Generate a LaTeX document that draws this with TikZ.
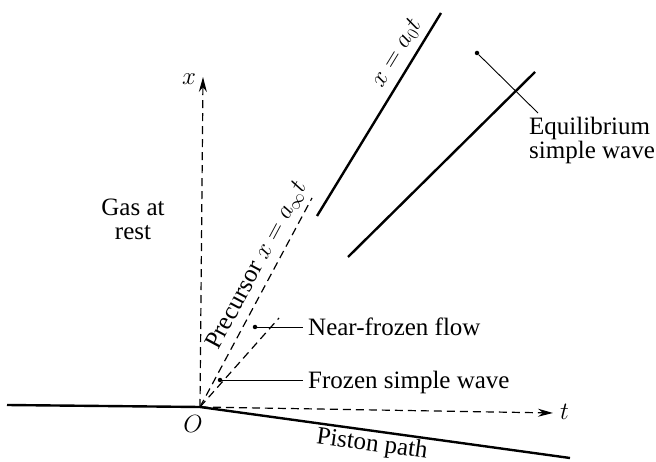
\documentclass[tikz,border=0pt]{standalone}
\usepackage{fontspec}
\setmainfont{Liberation Serif}
\usetikzlibrary{arrows.meta}
\tikzset{
  axisline/.style={line width=1.2pt, dash pattern=on 8pt off 5pt},
  waveline/.style={line width=2.4pt},
  leader/.style={line width=0.9pt},
  dotnode/.style={circle, fill=black, inner sep=0pt, minimum size=4.5pt},
  lbl/.style={font=\fontsize{25}{24}\selectfont, inner sep=0pt},
  axtip/.style={-{Stealth[length=15pt,width=8pt]}}
}
\begin{document}
\begin{tikzpicture}[x=1pt,y=-1pt]
\useasboundingbox (0,0) rectangle (656,462);
% key points
\coordinate (O) at (200,407);
\coordinate (L) at (7,405);
\coordinate (P) at (570,458);
\coordinate (xtip) at (203,77);
\coordinate (ttip) at (553,413);
\coordinate (pre) at (312,198);
\coordinate (nf) at (279,318);
\coordinate (a0s) at (317,216);
\coordinate (a0e) at (441,13);
\coordinate (eqs) at (348,257);
\coordinate (eqe) at (535,72);
% axes
\draw[axisline, axtip] (O) -- (xtip);
\draw[axisline, axtip] (O) -- (ttip);
\node[lbl] (xl) at (189,79) {$x$};
\node[lbl, anchor=west] (tl) at (560,412) {$t$};
% piston and wall
\draw[waveline] (L) -- (O) -- node[lbl, sloped, below=1.5pt, pos=0.47] (pp) {Piston path} (P);
\node[lbl] (Ol) at (193,424) {$O$};
% dashed characteristic lines
\draw[axisline] (O) -- node[lbl, sloped, above=6pt, pos=0.64] (prel) {Precursor $x=a_\infty t$} (pre);
\draw[axisline] (O) -- (nf);
% solid wave lines
\draw[waveline] (a0s) -- node[lbl, sloped, above=6pt, pos=0.76] (a0l) {$x=a_0t$} (a0e);
\draw[waveline] (eqs) -- (eqe);
% labels
\node[lbl, align=center, anchor=north] (gas) at (133,199) {Gas at\\rest};
\node[dotnode] (nfdot) at (255,327) {};
\node[lbl, anchor=base west] (nftext) at (308,335) {Near-frozen flow};
\draw[leader, shorten >=5pt] (nfdot) -- (nfdot -| nftext.west);
\node[dotnode] (fzdot) at (220,380) {};
\node[lbl, anchor=base west] (fztext) at (308,388) {Frozen simple wave};
\draw[leader, shorten >=5pt] (fzdot) -- (fzdot -| fztext.west);
\node[dotnode] (eqdot) at (477,53) {};
\node[lbl, align=left, anchor=north west] (eqtext) at (529,117) {Equilibrium\\simple wave};
\coordinate (eqend) at (538,113);
\draw[leader] (eqdot) -- (eqend);
\end{tikzpicture}
\end{document}
